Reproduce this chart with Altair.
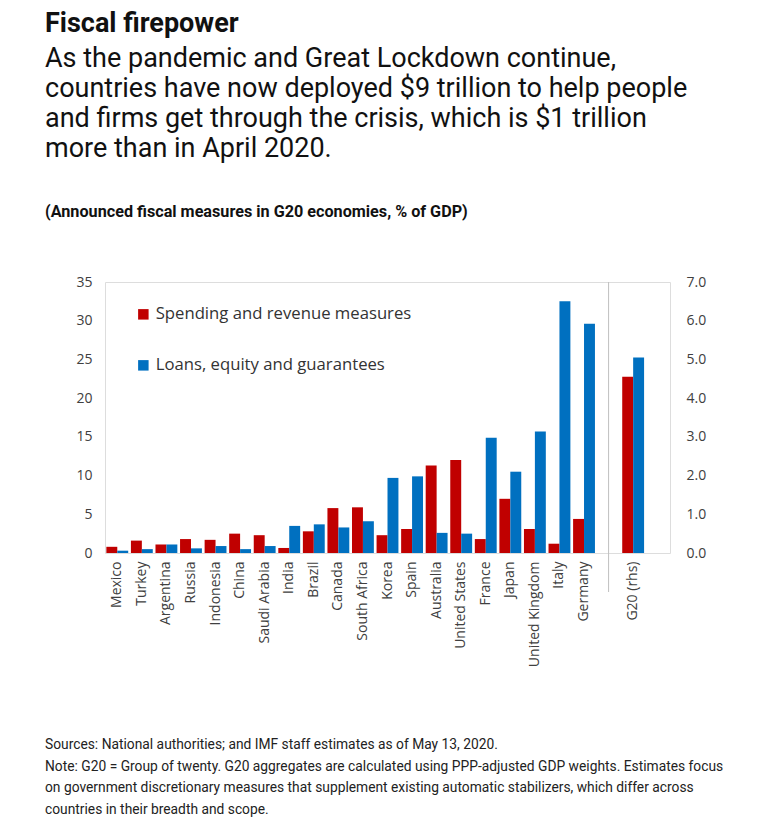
import altair as alt
import pandas as pd

countries = ["Mexico", "Turkey", "Argentina", "Russia", "Indonesia", "China", "Saudi Arabia",
             "India", "Brazil", "Canada", "South Africa", "Korea", "Spain", "Australia",
             "United States", "France", "Japan", "United Kingdom", "Italy", "Germany"]
spending = [0.8, 1.6, 1.1, 1.8, 1.7, 2.5, 2.3, 0.65, 2.8, 5.8, 5.9, 2.3, 3.1, 11.3,
            12.0, 1.8, 7.0, 3.1, 1.2, 4.4]
loans = [0.3, 0.5, 1.1, 0.6, 0.9, 0.5, 0.9, 3.5, 3.7, 3.3, 4.1, 9.7, 9.9, 2.6,
         2.5, 14.9, 10.5, 15.7, 32.5, 29.6]
g20_label = "G20 (rhs)"
g20_spending = 4.55
g20_loans = 5.05

series = ["Spending and revenue measures", "Loans, equity and guarantees"]
colors = ["#C00000", "#0070C0"]
x_domain = countries + ["sep", g20_label, "end"]

title_text = "Fiscal firepower"
subtitle_text = ("As the pandemic and Great Lockdown continue,\n"
                 "countries have now deployed $9 trillion to help people\n"
                 "and firms get through the crisis, which is $1 trillion\n"
                 "more than in April 2020.")
unit_text = "(Announced fiscal measures in G20 economies, % of GDP)"
notes_text = ("Sources: National authorities; and IMF staff estimates as of May 13, 2020.\n"
              "Note: G20 = Group of twenty. G20 aggregates are calculated using PPP-adjusted GDP weights. Estimates focus\n"
              "on government discretionary measures that supplement existing automatic stabilizers, which differ across\n"
              "countries in their breadth and scope.")

df = pd.DataFrame({
    "cat": countries * 2,
    "series": [series[0]] * len(countries) + [series[1]] * len(countries),
    "value": spending + loans,
})
df_g20 = pd.DataFrame({
    "cat": [g20_label, g20_label],
    "series": series,
    "value": [g20_spending, g20_loans],
})

W, H = 565, 271

x_enc = alt.X("cat:N", scale=alt.Scale(domain=x_domain, paddingInner=0.11, paddingOuter=0.055),
              sort=x_domain,
              axis=alt.Axis(title=None, labelAngle=-90, labelPadding=8, ticks=False, domain=False,
                            labelOverlap=False, labelFont="Open Sans", labelFontSize=14,
                            labelColor="#404040",
                            labelExpr="datum.value == 'sep' || datum.value == 'end' ? '' : datum.value"))
xoff = alt.XOffset("series:N", sort=series, scale=alt.Scale(paddingInner=0))
color_enc = alt.Color("series:N", sort=series,
                      scale=alt.Scale(domain=series, range=colors),
                      legend=alt.Legend(title=None, orient="none", legendX=30, legendY=24,
                                        symbolType="square", symbolSize=110, symbolStrokeWidth=0,
                                        labelFont="Open Sans", labelFontSize=16.7, labelColor="#333333",
                                        rowPadding=33, labelLimit=400, symbolOffset=0))

bars = alt.Chart(df).mark_bar().encode(
    x=x_enc,
    xOffset=xoff,
    y=alt.Y("value:Q", scale=alt.Scale(domain=[0, 35], nice=False),
            axis=alt.Axis(title=None, values=[0, 5, 10, 15, 20, 25, 30, 35], ticks=False, domain=False,
                          grid=False, labelPadding=13, labelFont="Open Sans", labelFontSize=14,
                          labelColor="#404040")),
    color=color_enc,
)

bars_g20 = alt.Chart(df_g20).mark_bar().encode(
    x=x_enc,
    xOffset=xoff,
    y=alt.Y("value:Q", scale=alt.Scale(domain=[0, 7], nice=False),
            axis=alt.Axis(title=None, orient="right", values=[0, 1, 2, 3, 4, 5, 6, 7], format=".1f",
                          ticks=False, domain=False, grid=False, labelPadding=16,
                          labelFont="Open Sans", labelFontSize=14, labelColor="#404040")),
    color=color_enc,
)

sep = alt.Chart(pd.DataFrame({"cat": ["sep"]})).mark_rule(color="#BFBFBF", strokeWidth=1).encode(
    x=alt.X("cat:N", scale=alt.Scale(domain=x_domain)),
    y=alt.value(0),
    y2=alt.value(310),
)

def text_layer(txt, x, y, size, weight="normal", font="Roboto", line_height=None, color="#111111"):
    kw = dict(align="left", baseline="alphabetic", font=font, fontSize=size, fontWeight=weight,
              color=color, lineBreak="\n")
    if line_height:
        kw["lineHeight"] = line_height
    return alt.Chart(pd.DataFrame({"t": [txt]})).mark_text(**kw).encode(
        x=alt.value(x), y=alt.value(y), text="t:N")

title = text_layer(title_text, -60, -250, 27, weight="bold")
subtitle = text_layer(subtitle_text, -60, -215, 27, line_height=30)
unit = text_layer(unit_text, -60, -65, 16.2, weight="bold")
notes = text_layer(notes_text, -60, 467, 13.8, line_height=21.5, color="#222222")

chart = alt.layer(bars, bars_g20, sep, title, subtitle, unit, notes).resolve_scale(
    y="independent"
).properties(
    width=W, height=H,
    autosize=alt.AutoSizeParams(type="none"),
    padding={"left": 97, "top": 274, "right": 94, "bottom": 268},
).configure_view(
    stroke="#BFBFBF", strokeWidth=1.2
).configure(background="white")

chart.save("out.html", embed_options={"renderer": "svg", "actions": False})
